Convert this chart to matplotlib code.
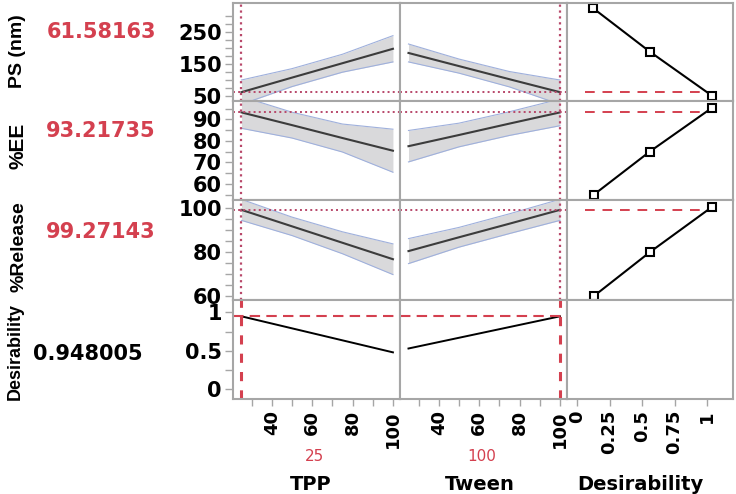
import numpy as np
import matplotlib.pyplot as plt
from matplotlib.ticker import FixedLocator, NullFormatter


factor_names = ['TPP', 'Tween']
factor_current = [25, 100]
factor_grid = [25, 50, 75, 100]

response_names = ['PS (nm)', '%EE', '%Release']
response_current = [61.58163, 93.21735, 99.27143]
desir_current = 0.948005

# predicted response vs TPP / Tween, with half width of the confidence band
ps_tpp = [61.6, 107, 152, 197]
ps_tpp_hw = [38, 28, 28, 41]
ps_tween = [184, 143, 102, 61.6]
ps_tween_hw = [28, 22, 24, 38]

ee_tpp = [93.2, 87.3, 81.3, 75.4]
ee_tpp_hw = [7.4, 6.0, 6.5, 10.0]
ee_tween = [77.5, 82.7, 88.0, 93.2]
ee_tween_hw = [7.3, 5.5, 5.5, 6.2]

rel_tpp = [99.3, 91.8, 84.3, 76.8]
rel_tpp_hw = [4.8, 4.2, 5.0, 7.0]
rel_tween = [80.5, 86.8, 93.0, 99.3]
rel_tween_hw = [5.7, 4.5, 4.5, 4.8]

desir_x = [25, 100]
desir_tpp = [0.948, 0.48]
desir_tween = [0.53, 0.948]

# desirability functions (desirability, response)
ps_df_d = [0.12, 0.56, 1.04]
ps_df_y = [325, 188, 50]
ee_df_d = [0.13, 0.56, 1.04]
ee_df_y = [55, 75, 95.4]
rel_df_d = [0.13, 0.56, 1.04]
rel_df_y = [60, 80, 100.7]

# axis setup
ylims = [(34, 340), (52.5, 98.5), (58.2, 103.8), (-0.126, 1.16)]
ymajor = [[50, 150, 250], [60, 70, 80, 90], [60, 80, 100], [0, 0.5, 1]]
ymajor_lbl = [['50', '150', '250'], ['60', '70', '80', '90'], ['60', '80', '100'], ['0', '0.5', '1']]
yminor = [[75, 100, 125, 175, 200, 225, 275, 300], [55, 65, 75, 85, 95],
          [65, 70, 75, 85, 90, 95], [0.25, 0.75]]
fac_xlim = (20.8, 103.5)
fac_major = [40, 60, 80, 100]
fac_minor = [30, 50, 70, 90]
des_xlim = (-0.077, 1.2)
des_major = [0, 0.25, 0.5, 0.75, 1]
des_major_lbl = ['0', '0.25', '0.5', '0.75', '1']

RED = '#d4404f'
DOT = '#b8486a'
GRAY = '#a6a6a6'
narrow = ['Liberation Sans', 'DejaVu Sans']

W, H = 736, 494
fig = plt.figure(figsize=(W / 100, H / 100), dpi=100)

def fx(p):
    return p / W

def fy(p):
    return 1 - p / H

cols = [233, 400, 567, 733]
rows = [3, 101, 200, 300, 399]

axes = [[None] * 3 for _ in range(4)]
for r in range(4):
    for c in range(3):
        ax = fig.add_axes([fx(cols[c]), fy(rows[r + 1]),
                           fx(cols[c + 1]) - fx(cols[c]), fy(rows[r]) - fy(rows[r + 1])])
        for s in ax.spines.values():
            s.set_color(GRAY)
            s.set_linewidth(1.5)
        ax.set_ylim(*ylims[r])
        ax.set_xlim(*(fac_xlim if c < 2 else des_xlim))
        ax.tick_params(which='both', length=0, labelleft=False, labelbottom=False)
        axes[r][c] = ax

        if c == 0:
            ax.yaxis.set_major_locator(FixedLocator(ymajor[r]))
            ax.yaxis.set_minor_locator(FixedLocator(yminor[r]))
            ax.set_yticklabels(ymajor_lbl[r])
            ax.yaxis.set_minor_formatter(NullFormatter())
            ax.tick_params(axis='y', which='both', length=6, width=1, color=GRAY,
                           labelleft=True, labelsize=15, pad=2)
            for t in ax.get_yticklabels():
                t.set_fontweight('bold')
        if r == 3:
            if c < 2:
                ax.xaxis.set_major_locator(FixedLocator(fac_major))
                ax.xaxis.set_minor_locator(FixedLocator(fac_minor))
                ax.set_xticklabels([str(v) for v in fac_major])
            else:
                ax.xaxis.set_major_locator(FixedLocator(des_major))
                ax.set_xticklabels(des_major_lbl)
            ax.xaxis.set_minor_formatter(NullFormatter())
            ax.tick_params(axis='x', which='both', length=5, width=1, color=GRAY,
                           labelbottom=True, labelsize=13, pad=3, labelrotation=90)
            for t in ax.get_xticklabels():
                t.set_fontweight('bold')
        else:
            ax.set_xticks([])
        if c > 0:
            ax.set_yticks([])

profiles = [
    [(ps_tpp, ps_tpp_hw), (ps_tween, ps_tween_hw)],
    [(ee_tpp, ee_tpp_hw), (ee_tween, ee_tween_hw)],
    [(rel_tpp, rel_tpp_hw), (rel_tween, rel_tween_hw)],
]
dfuncs = [(ps_df_d, ps_df_y), (ee_df_d, ee_df_y), (rel_df_d, rel_df_y)]

for r in range(3):
    for c in range(2):
        ax = axes[r][c]
        y, hw = np.array(profiles[r][c][0]), np.array(profiles[r][c][1])
        ax.fill_between(factor_grid, y - hw, y + hw, color='#d9d9db', lw=0)
        ax.plot(factor_grid, y + hw, color='#9fb0dc', lw=0.8)
        ax.plot(factor_grid, y - hw, color='#9fb0dc', lw=0.8)
        ax.plot(factor_grid, y, color='#3c3c3c', lw=1.5)
        ax.axhline(response_current[r], color=DOT, ls=':', lw=1.4)
        ax.axvline(factor_current[c], color=DOT, ls=':', lw=1.6)
    ax = axes[r][2]
    d, v = dfuncs[r]
    ax.plot(d, v, color='black', lw=1.5, marker='s', ms=5.5, mfc='white', mec='black', mew=1.5)
    ax.plot([0.06, 1.0], [response_current[r]] * 2, color=RED, ls=(0, (5, 4)), lw=1.4)

axes[3][0].plot(desir_x, desir_tpp, color='black', lw=1.4)
axes[3][1].plot(desir_x, desir_tween, color='black', lw=1.4)
for c in range(2):
    axes[3][c].axhline(desir_current, color=RED, ls=(0, (5, 3)), lw=1.5)
    axes[3][c].axvline(factor_current[c], color=RED, ls=(0, (3, 3)), lw=2.2)

# left-hand labels and current values
label_pos = [(18, 51), (18, 146), (19, 247)]
label_size = [14, 15, 14]
value_pos = [(101, 32), (101, 131), (101, 232)]
for r in range(3):
    fig.text(fx(label_pos[r][0]), fy(label_pos[r][1]), response_names[r], rotation=90,
             ha='center', va='center', fontsize=label_size[r], fontweight='bold', family=narrow)
    fig.text(fx(value_pos[r][0]), fy(value_pos[r][1]), f'{response_current[r]:.5f}',
             ha='center', va='center', fontsize=15, fontweight='bold', color=RED)
fig.text(fx(15), fy(352), 'Desirability', rotation=90, ha='center', va='center',
         fontsize=13, fontweight='bold', family=narrow)
fig.text(fx(88), fy(354), f'{desir_current:.6f}', ha='center', va='center',
         fontsize=15, fontweight='bold', color='black')

# bottom factor labels
fig.text(fx(314), fy(456), str(factor_current[0]), ha='center', va='center', fontsize=11, color=RED)
fig.text(fx(482), fy(456), str(factor_current[1]), ha='center', va='center', fontsize=11, color=RED)
fig.text(fx(311), fy(484), factor_names[0], ha='center', va='center', fontsize=14, fontweight='bold')
fig.text(fx(480), fy(484), factor_names[1], ha='center', va='center', fontsize=14, fontweight='bold')
fig.text(fx(640), fy(484), 'Desirability', ha='center', va='center', fontsize=14, fontweight='bold')

fig.savefig('out.png', dpi=100)
